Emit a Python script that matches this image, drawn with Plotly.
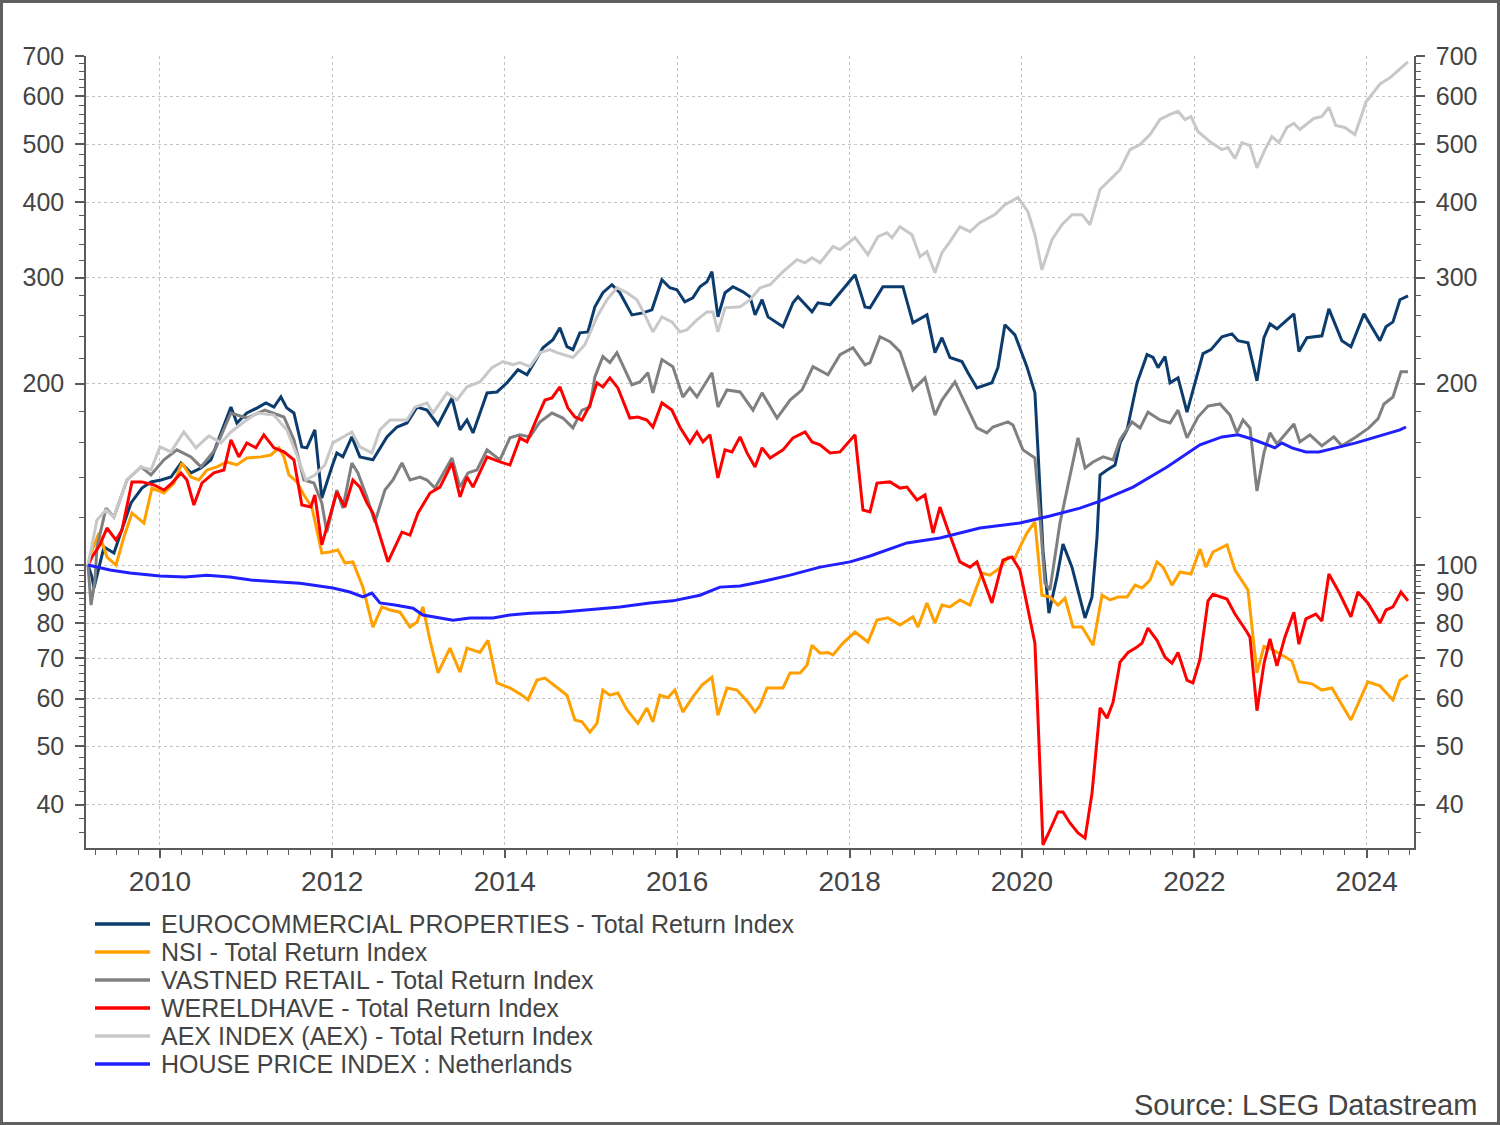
import math
from datetime import datetime
import plotly.graph_objects as go

# ---------------- data (decimal year, index value) ----------------
EURO = [(2009.165,100),(2009.211,95.5),(2009.234,91.6),(2009.350,107.1),(2009.466,104.7),(2009.548,113.0),
(2009.664,126.8),(2009.791,134.2),(2009.896,137.4),(2010.012,138.4),(2010.128,140.0),(2010.244,147.7),
(2010.360,142.2),(2010.476,144.9),(2010.592,149.5),(2010.708,165.7),(2010.824,182.9),(2010.893,172.1),
(2011.009,178.8),(2011.125,182.2),(2011.230,185.8),(2011.323,182.9),(2011.404,190.1),(2011.473,182.2),
(2011.555,178.8),(2011.647,157.1),(2011.705,156.5),(2011.798,167.6),(2011.879,129.2),(2011.995,145.5),
(2012.053,153.5),(2012.123,151.2),(2012.227,163.2),(2012.320,151.2),(2012.471,149.5),(2012.633,163.2),
(2012.749,169.5),(2012.865,172.1),(2012.981,182.9),(2013.097,180.8),(2013.225,170.8),(2013.387,189.4),
(2013.480,167.6),(2013.561,174.1),(2013.631,165.7),(2013.794,193.1),(2013.910,193.8),(2014.026,200.7),
(2014.153,211.0),(2014.258,207.0),(2014.443,229.5),(2014.559,236.6),(2014.640,247.6),(2014.722,230.4),
(2014.791,227.8),(2014.872,242.9),(2014.965,243.8),(2015.046,268.3),(2015.139,283.2),(2015.244,292.0),
(2015.336,283.2),(2015.476,260.2),(2015.603,262.2),(2015.708,265.3),(2015.824,297.6),(2015.916,288.7),
(2015.998,286.5),(2016.090,273.6),(2016.183,277.8),(2016.265,289.8),(2016.346,295.4),(2016.404,306.9),
(2016.473,258.2),(2016.555,283.2),(2016.647,289.8),(2016.763,284.2),(2016.845,278.8),(2016.903,260.2),
(2016.984,275.7),(2017.053,258.2),(2017.227,248.6),(2017.343,272.5),(2017.401,278.8),(2017.564,263.2),
(2017.633,272.5),(2017.773,270.4),(2017.889,283.2),(2018.063,303.4),(2018.179,268.3),(2018.237,267.3),
(2018.387,289.8),(2018.619,289.8),(2018.735,252.4),(2018.898,260.2),(2018.991,225.2),(2019.072,238.4),
(2019.165,221.1),(2019.304,217.7),(2019.374,208.6),(2019.478,196.8),(2019.652,200.7),(2019.722,212.7),
(2019.803,250.5),(2019.919,241.1),(2020.058,213.5),(2020.151,193.1),(2020.186,155.3),(2020.244,105.9),
(2020.313,83.2),(2020.406,95.5),(2020.476,108.4),(2020.580,99.2),(2020.731,81.7),(2020.812,88.5),
(2020.870,111.3),(2020.905,141.1),(2020.986,143.8),(2021.079,146.6),(2021.137,159.5),(2021.218,167.6),
(2021.334,200.7),(2021.450,223.5),(2021.520,221.1),(2021.578,212.7),(2021.659,221.9),(2021.717,200.7),
(2021.810,204.5),(2021.914,179.4),(2022.100,224.4),(2022.193,227.8),(2022.320,239.3),(2022.436,242.0),
(2022.506,235.7),(2022.622,233.9),(2022.726,202.2),(2022.807,238.4),(2022.877,251.4),(2022.958,246.7),
(2023.155,261.2),(2023.213,226.1),(2023.306,238.4),(2023.480,240.2),(2023.561,266.3),(2023.712,235.7),
(2023.817,230.4),(2023.968,261.2),(2024.153,235.7),(2024.223,248.6),(2024.304,253.3),(2024.385,275.7),
(2024.478,279.9)]

NSI = [(2009.165,100),(2009.200,104.7),(2009.292,113.0),(2009.385,103.1),(2009.490,100.0),(2009.582,111.3),
(2009.675,122.0),(2009.814,117.4),(2009.907,134.2),(2010.046,131.7),(2010.162,136.8),(2010.255,147.7),
(2010.360,140.0),(2010.452,138.4),(2010.545,143.8),(2010.661,145.5),(2010.777,148.3),(2010.893,146.6),
(2011.009,150.6),(2011.172,151.2),(2011.288,152.3),(2011.381,156.5),(2011.439,151.2),(2011.497,141.1),
(2011.589,137.4),(2011.671,130.7),(2011.763,124.8),(2011.879,104.7),(2011.972,105.1),(2012.065,105.9),
(2012.146,100.8),(2012.239,101.2),(2012.355,91.9),(2012.471,78.9),(2012.575,85.2),(2012.668,84.2),
(2012.784,83.5),(2012.900,78.9),(2012.981,80.4),(2013.050,85.2),(2013.132,75.0),(2013.225,66.2),
(2013.364,72.8),(2013.480,66.4),(2013.561,72.8),(2013.712,71.6),(2013.805,75.0),(2013.910,63.7),
(2014.060,62.5),(2014.200,60.8),(2014.269,59.7),(2014.374,64.4),(2014.466,64.9),(2014.606,62.7),
(2014.722,60.8),(2014.814,55.3),(2014.896,54.9),(2014.988,52.8),(2015.070,54.6),(2015.139,62.0),
(2015.220,60.8),(2015.313,61.3),(2015.418,57.5),(2015.545,54.6),(2015.650,57.9),(2015.719,54.9),
(2015.800,60.8),(2015.893,60.2),(2015.974,62.0),(2016.067,57.0),(2016.183,60.4),(2016.288,63.2),
(2016.404,65.1),(2016.473,56.3),(2016.578,62.5),(2016.694,62.0),(2016.821,59.2),(2016.903,57.0),
(2016.961,58.5),(2017.042,62.5),(2017.227,62.5),(2017.309,66.2),(2017.425,66.2),(2017.506,68.2),
(2017.564,73.6),(2017.657,71.4),(2017.749,71.6),(2017.807,70.9),(2017.923,74.2),(2018.063,77.4),
(2018.213,74.5),(2018.318,81.0),(2018.445,81.7),(2018.585,79.5),(2018.735,82.0),(2018.794,78.9),
(2018.898,86.5),(2018.991,80.1),(2019.072,85.8),(2019.165,85.2),(2019.281,87.5),(2019.397,85.8),
(2019.536,97.0),(2019.629,96.2),(2019.745,98.9),(2019.838,103.1),(2019.919,102.7),(2019.977,107.1),
(2020.058,113.0),(2020.151,117.9),(2020.232,89.1),(2020.325,88.5),(2020.418,85.8),(2020.499,88.1),
(2020.592,78.9),(2020.696,78.9),(2020.824,73.6),(2020.928,89.1),(2021.021,87.5),(2021.114,88.5),
(2021.218,88.5),(2021.311,92.6),(2021.392,91.6),(2021.485,94.4),(2021.566,101.2),(2021.636,99.2),
(2021.740,92.6),(2021.833,97.4),(2021.960,96.6),(2022.065,106.3),(2022.134,99.2),(2022.216,105.1),
(2022.378,108.0),(2022.471,98.1),(2022.622,90.9),(2022.726,66.2),(2022.807,73.3),(2022.877,72.8),
(2022.981,71.4),(2023.132,69.3),(2023.213,64.0),(2023.364,63.5),(2023.480,62.0),(2023.596,62.5),
(2023.817,55.3),(2023.910,59.2),(2024.013,64.0),(2024.153,63.0),(2024.304,59.7),(2024.385,64.4),
(2024.478,65.7)]

VASTNED = [(2009.165,100),(2009.200,85.8),(2009.246,94.4),(2009.269,107.1),(2009.374,124.3),(2009.466,120.1),
(2009.617,138.4),(2009.780,145.5),(2009.896,141.1),(2010.046,149.5),(2010.197,155.3),(2010.360,151.2),
(2010.476,145.5),(2010.638,155.3),(2010.824,178.8),(2011.009,175.4),(2011.218,180.8),(2011.439,176.1),
(2011.555,161.4),(2011.671,138.4),(2011.787,136.8),(2011.879,126.8),(2011.937,113.4),(2012.053,133.2),
(2012.123,124.3),(2012.227,147.7),(2012.297,142.2),(2012.401,129.7),(2012.494,117.9),(2012.610,133.2),
(2012.703,138.4),(2012.807,147.7),(2012.900,138.4),(2013.016,140.0),(2013.097,138.4),(2013.190,134.2),
(2013.387,150.6),(2013.480,134.7),(2013.573,142.2),(2013.677,143.8),(2013.794,155.3),(2013.944,149.5),
(2014.060,162.6),(2014.176,164.5),(2014.292,163.2),(2014.408,172.8),(2014.548,178.8),(2014.675,175.4),
(2014.791,168.9),(2014.896,180.8),(2014.988,182.9),(2015.046,205.3),(2015.139,221.9),(2015.220,216.8),
(2015.302,225.2),(2015.476,199.2),(2015.568,201.4),(2015.661,208.6),(2015.719,193.1),(2015.824,219.3),
(2015.951,213.5),(2016.067,190.1),(2016.148,196.8),(2016.230,190.1),(2016.404,208.6),(2016.473,182.9),
(2016.578,195.3),(2016.729,193.8),(2016.879,180.8),(2016.984,193.1),(2017.158,175.4),(2017.309,187.9),
(2017.448,195.3),(2017.575,213.5),(2017.749,207.0),(2017.889,223.5),(2018.039,229.5),(2018.179,215.0),
(2018.237,216.8),(2018.353,239.3),(2018.469,234.8),(2018.585,226.1),(2018.735,195.3),(2018.875,204.5),
(2018.991,177.4),(2019.072,187.9),(2019.223,201.4),(2019.362,182.9),(2019.478,168.9),(2019.594,165.7),
(2019.664,169.5),(2019.838,172.8),(2019.896,170.8),(2020.012,155.3),(2020.151,150.6),(2020.209,120.1),
(2020.267,93.3),(2020.325,90.9),(2020.441,117.4),(2020.650,162.6),(2020.731,144.9),(2020.824,148.3),
(2020.940,151.2),(2021.056,149.5),(2021.137,161.4),(2021.276,172.8),(2021.369,168.9),(2021.461,179.4),
(2021.601,174.1),(2021.717,172.1),(2021.810,180.8),(2021.914,162.6),(2022.041,176.1),(2022.158,183.6),
(2022.297,185.1),(2022.413,177.4),(2022.494,165.7),(2022.564,174.1),(2022.645,168.9),(2022.726,132.7),
(2022.807,153.5),(2022.877,165.7),(2022.958,158.9),(2023.155,171.5),(2023.224,160.1),(2023.341,164.5),
(2023.480,157.7),(2023.619,163.2),(2023.712,157.7),(2023.875,163.2),(2024.025,168.9),(2024.130,174.8),
(2024.200,185.1),(2024.304,190.1),(2024.397,209.4),(2024.478,209.4)]

WERELDHAVE = [(2009.165,100),(2009.211,103.1),(2009.304,108.0),(2009.385,115.2),(2009.490,110.0),(2009.559,114.3),
(2009.675,137.4),(2009.791,137.4),(2009.930,135.8),(2010.046,133.2),(2010.139,136.8),(2010.244,142.2),
(2010.313,138.4),(2010.394,125.8),(2010.487,136.8),(2010.626,142.2),(2010.742,143.8),(2010.824,161.4),
(2010.916,151.2),(2011.009,159.5),(2011.114,156.5),(2011.206,164.5),(2011.323,156.5),(2011.439,154.1),
(2011.555,149.5),(2011.647,125.8),(2011.752,124.8),(2011.798,130.7),(2011.879,108.0),(2011.972,120.1),
(2012.053,132.2),(2012.146,124.8),(2012.239,138.4),(2012.320,134.7),(2012.401,126.8),(2012.471,122.0),
(2012.645,101.2),(2012.807,113.4),(2012.900,112.1),(2012.993,122.0),(2013.132,131.7),(2013.248,134.7),
(2013.387,147.7),(2013.480,129.7),(2013.561,140.0),(2013.631,134.7),(2013.794,151.2),(2013.944,148.3),
(2014.060,146.6),(2014.176,162.6),(2014.258,160.1),(2014.374,175.4),(2014.466,187.9),(2014.548,189.4),
(2014.640,197.6),(2014.733,182.2),(2014.814,176.1),(2014.896,174.1),(2014.988,184.4),(2015.070,200.7),
(2015.139,197.6),(2015.220,204.5),(2015.313,196.8),(2015.452,175.4),(2015.545,176.1),(2015.650,174.1),
(2015.720,169.5),(2015.824,185.8),(2015.940,180.8),(2016.032,169.5),(2016.148,159.5),(2016.230,166.3),
(2016.300,160.1),(2016.381,164.5),(2016.473,139.5),(2016.555,155.3),(2016.636,154.1),(2016.729,163.2),
(2016.810,153.5),(2016.903,145.5),(2016.984,156.5),(2017.077,150.6),(2017.227,155.3),(2017.343,162.6),
(2017.483,166.3),(2017.564,160.1),(2017.657,158.3),(2017.773,153.5),(2017.889,154.1),(2018.063,164.5),
(2018.155,123.4),(2018.237,122.5),(2018.318,136.8),(2018.469,137.4),(2018.585,134.2),(2018.666,134.7),
(2018.782,128.2),(2018.875,130.7),(2018.968,113.0),(2019.049,124.8),(2019.142,114.3),(2019.281,101.2),
(2019.397,99.2),(2019.478,101.2),(2019.652,86.5),(2019.780,101.9),(2019.884,103.1),(2019.977,98.1),
(2020.093,82.0),(2020.151,74.2),(2020.186,55.9),(2020.244,34.3),(2020.325,36.3),(2020.418,38.9),
(2020.476,38.9),(2020.557,37.3),(2020.650,35.9),(2020.731,35.2),(2020.812,41.8),(2020.905,57.9),
(2020.986,55.7),(2021.056,59.2),(2021.137,69.0),(2021.230,71.6),(2021.334,73.1),(2021.392,74.2),
(2021.461,78.6),(2021.566,75.0),(2021.659,70.3),(2021.740,68.7),(2021.810,71.6),(2021.914,64.4),
(2021.983,63.7),(2022.065,69.8),(2022.158,87.2),(2022.216,89.4),(2022.378,87.8),(2022.471,82.9),
(2022.610,77.4),(2022.645,75.9),(2022.726,57.3),(2022.807,68.5),(2022.877,75.4),(2022.958,68.0),
(2023.050,75.9),(2023.155,83.5),(2023.213,73.9),(2023.294,81.4),(2023.410,82.9),(2023.480,80.7),
(2023.561,96.6),(2023.677,90.2),(2023.817,82.0),(2023.898,90.2),(2024.013,86.5),(2024.153,80.1),
(2024.223,84.2),(2024.304,85.2),(2024.397,90.2),(2024.478,87.2)]

AEX = [(2009.165,100),(2009.269,118.8),(2009.374,123.4),(2009.466,120.1),(2009.617,138.4),(2009.780,145.5),
(2009.896,143.8),(2010.000,157.1),(2010.128,154.1),(2010.278,166.3),(2010.418,156.5),(2010.568,163.8),
(2010.708,159.5),(2010.824,166.3),(2010.974,172.8),(2011.125,178.8),(2011.323,177.4),(2011.473,167.6),
(2011.589,152.3),(2011.694,138.4),(2011.798,141.1),(2011.914,146.6),(2012.007,159.5),(2012.111,162.6),
(2012.227,166.3),(2012.320,157.1),(2012.459,153.5),(2012.552,167.6),(2012.668,174.1),(2012.865,174.1),
(2012.958,182.9),(2013.097,185.8),(2013.167,178.8),(2013.329,193.1),(2013.445,187.9),(2013.561,197.6),
(2013.712,201.4),(2013.851,212.7),(2013.979,217.7),(2014.095,215.0),(2014.176,216.8),(2014.292,213.5),
(2014.408,225.2),(2014.524,227.8),(2014.606,225.2),(2014.791,221.1),(2014.930,232.1),(2015.070,258.2),
(2015.186,275.7),(2015.302,288.7),(2015.418,283.2),(2015.534,275.7),(2015.626,260.2),(2015.719,243.8),
(2015.824,258.2),(2015.940,253.3),(2016.032,243.8),(2016.114,245.7),(2016.230,255.3),(2016.346,263.2),
(2016.416,263.2),(2016.473,243.8),(2016.555,267.3),(2016.729,268.3),(2016.845,275.7),(2016.961,288.7),
(2017.077,292.0),(2017.227,306.9),(2017.390,321.3),(2017.483,317.5),(2017.564,323.7),(2017.657,317.5),
(2017.807,337.7),(2017.889,333.9),(2018.063,349.5),(2018.213,327.5),(2018.329,350.8),(2018.434,356.2),
(2018.492,349.5),(2018.585,364.5),(2018.724,353.5),(2018.817,325.0),(2018.898,331.3),(2018.991,305.7),
(2019.072,330.0),(2019.165,344.2),(2019.281,364.5),(2019.397,357.6),(2019.513,370.2),(2019.687,381.7),
(2019.803,396.6),(2019.954,407.5),(2020.070,386.0),(2020.151,353.5),(2020.232,309.3),(2020.348,346.9),
(2020.464,367.3),(2020.580,381.7),(2020.696,381.7),(2020.789,367.3),(2020.905,420.2),(2021.021,436.4),
(2021.137,453.2),(2021.253,489.4),(2021.369,498.9),(2021.485,518.5),(2021.601,549.2),(2021.717,559.8),
(2021.810,566.4),(2021.891,549.0),(2021.960,555.6),(2022.041,524.5),(2022.193,502.8),(2022.320,489.4),
(2022.389,493.1),(2022.471,473.0),(2022.552,502.8),(2022.645,497.0),(2022.726,456.6),(2022.819,489.4),
(2022.900,514.5),(2022.981,502.8),(2023.074,532.7),(2023.155,540.9),(2023.224,528.6),(2023.387,551.3),
(2023.480,555.6),(2023.561,575.2),(2023.642,536.8),(2023.746,532.7),(2023.863,518.5),(2023.944,559.8),
(2023.990,586.5),(2024.153,628.9),(2024.269,644.1),(2024.385,666.6),(2024.478,684.7)]

HOUSE = [(2009.165,100),(2009.420,98.1),(2009.652,97.0),(2010.000,95.9),(2010.290,95.5),(2010.545,96.2),
(2010.812,95.5),(2011.056,94.4),(2011.392,93.7),(2011.624,93.3),(2011.787,92.6),(2012.007,91.6),
(2012.204,90.2),(2012.355,88.5),(2012.459,89.8),(2012.552,86.5),(2012.726,85.8),(2012.935,84.8),
(2013.050,82.6),(2013.248,81.7),(2013.399,81.0),(2013.596,81.7),(2013.863,81.7),(2014.060,82.6),
(2014.292,83.2),(2014.640,83.5),(2014.954,84.2),(2015.336,85.2),(2015.684,86.5),(2015.951,87.2),
(2016.265,89.1),(2016.497,91.9),(2016.729,92.3),(2016.961,93.7),(2017.309,96.2),(2017.657,99.2),
(2018.005,101.2),(2018.237,103.5),(2018.666,108.8),(2019.049,110.9),(2019.513,115.2),(2019.977,117.4),
(2020.325,120.6),(2020.673,124.3),(2020.905,127.7),(2021.288,134.7),(2021.682,145.5),(2022.065,158.3),
(2022.320,163.2),(2022.506,164.5),(2022.668,161.9),(2022.935,156.5),(2023.015,159.5),(2023.132,156.5),
(2023.294,154.1),(2023.445,154.1),(2023.642,156.5),(2023.875,159.5),(2024.072,162.6),(2024.223,165.1),
(2024.385,167.6),(2024.455,169.5)]

SERIES_NAMES = ["EUROCOMMERCIAL PROPERTIES - Total Return Index", "NSI - Total Return Index",
                "VASTNED RETAIL - Total Return Index", "WERELDHAVE - Total Return Index",
                "AEX INDEX (AEX) - Total Return Index", "HOUSE PRICE INDEX : Netherlands"]
SERIES_COLORS = ["#0c3c6e", "#ffa000", "#808080", "#ff0000", "#c8c8c8", "#2020ff"]
SERIES_DATA = [EURO, NSI, VASTNED, WERELDHAVE, AEX, HOUSE]

Y_MAJOR = [40, 50, 60, 70, 80, 90, 100, 200, 300, 400, 500, 600, 700]
Y_MINOR = [36, 38] + [v for v in range(42, 100, 2) if v % 10] + [120, 140, 160, 180] + \
          [v for v in range(220, 700, 20) if v % 100]
X_RANGE = (2009.1415, 2024.5476)
Y_RANGE = (33.9, 700)


def to_date(y):
    yr = int(math.floor(y))
    a, b = datetime(yr, 1, 1), datetime(yr + 1, 1, 1)
    return a + (b - a) * (y - yr)


FONT = "Liberation Sans, Arial, Helvetica, sans-serif"
TXT = "#444444"
AX = "#5a5a5a"

fig = go.Figure()
for name, col, data in zip(SERIES_NAMES, SERIES_COLORS, SERIES_DATA):
    t, v = zip(*data)
    fig.add_trace(go.Scatter(x=[to_date(a) for a in t], y=list(v), mode="lines", name=name,
                             line=dict(color=col, width=3), showlegend=False))
# invisible copy so that the right-hand mirrored axis is drawn
t, v = zip(*HOUSE)
fig.add_trace(go.Scatter(x=[to_date(a) for a in t], y=list(v), mode="lines", yaxis="y2",
                         line=dict(width=0, color="rgba(0,0,0,0)"), showlegend=False, hoverinfo="skip"))

L, R, T, B = 86, 86, 56, 277
W, H = 1500, 1125
PW, PH = W - L - R, H - T - B

yax = dict(type="log", range=[math.log10(Y_RANGE[0]), math.log10(Y_RANGE[1])],
           tickmode="array", tickvals=Y_MAJOR, ticktext=[str(v) for v in Y_MAJOR],
           ticks="outside", ticklen=9, tickwidth=1.5, tickcolor=AX,
           showline=True, linecolor=AX, linewidth=1.5,
           tickfont=dict(family=FONT, size=25, color=TXT), ticklabelstandoff=6,
           minor=dict(tickmode="array", tickvals=Y_MINOR, ticks="outside", ticklen=5,
                      tickwidth=1.2, tickcolor=AX, showgrid=False),
           zeroline=False)

fig.update_layout(
    width=W, height=H, margin=dict(l=L, r=R, t=T, b=B),
    paper_bgcolor="white", plot_bgcolor="white",
    font=dict(family=FONT, color=TXT),
    xaxis=dict(type="date", range=[to_date(X_RANGE[0]), to_date(X_RANGE[1])],
               tick0="2010-01-01", dtick="M24", tickformat="%Y",
               ticks="outside", ticklen=8, tickwidth=1.5, tickcolor=AX,
               showline=True, linecolor=AX, linewidth=1.5,
               showgrid=True, gridcolor="#c4c4c4", griddash="dot", gridwidth=1,
               tickfont=dict(family=FONT, size=28, color=TXT), ticklabelstandoff=0,
               minor=dict(tick0="2009-01-01", dtick="M3", ticks="outside", ticklen=5,
                          tickwidth=1.2, tickcolor=AX, showgrid=False),
               zeroline=False),
    yaxis=dict(**yax, side="left", showgrid=True, gridcolor="#c4c4c4", griddash="dot", gridwidth=1),
    yaxis2=dict(**yax, side="right", overlaying="y", matches="y", showgrid=False),
    showlegend=False,
)

# manual legend (long line samples as in the original)
shapes, annos = [], []
for i, (name, col) in enumerate(zip(SERIES_NAMES, SERIES_COLORS)):
    ypix = 924 + 28 * i
    yp = (H - B - ypix) / PH
    shapes.append(dict(type="line", xref="paper", yref="paper",
                       x0=(95 - L) / PW, x1=(150 - L) / PW, y0=yp, y1=yp,
                       line=dict(color=col, width=3.5)))
    annos.append(dict(xref="paper", yref="paper", x=(159 - L) / PW, y=yp, xanchor="left",
                      yanchor="middle", showarrow=False, text=name,
                      font=dict(family=FONT, size=25, color=TXT)))

annos.append(dict(xref="paper", yref="paper", x=(1479 - L) / PW, y=(H - B - 1105) / PH,
                  xanchor="right", yanchor="middle", showarrow=False,
                  text="Source: LSEG Datastream", font=dict(family=FONT, size=29, color=TXT)))

# outer frame of the picture
shapes.append(dict(type="rect", xref="paper", yref="paper",
                   x0=(1.5 - L) / PW, x1=(W - 1.5 - L) / PW,
                   y0=(H - B - (H - 1.5)) / PH, y1=(H - B - 1.5) / PH,
                   line=dict(color="#5f5f5f", width=3)))

fig.update_layout(shapes=shapes, annotations=annos)
fig.write_html("out.html")
